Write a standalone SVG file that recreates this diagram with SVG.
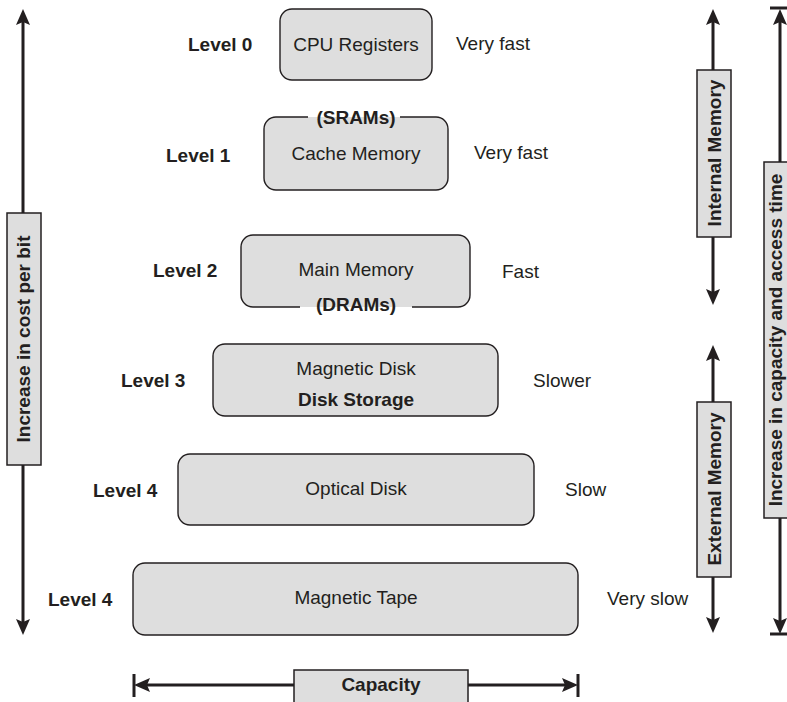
<svg xmlns="http://www.w3.org/2000/svg" width="787" height="702" viewBox="0 0 787 702">
  <style>
    text { font-family: "Liberation Sans", Arial, sans-serif; font-size: 19px; fill: #231f20; }
    .b { font-weight: bold; }
    .m { text-anchor: middle; }
    .box { fill: #dedede; stroke: #231f20; stroke-width: 1.4; }
    .fill { fill: #dedede; stroke: none; }
    .edge { fill: none; stroke: #231f20; stroke-width: 1.4; }
    .tag { fill: #dedede; stroke: #231f20; stroke-width: 1.5; }
    .axis { fill: none; stroke: #231f20; stroke-width: 3; }
  </style>
  <defs>
    <marker id="head" viewBox="-16 -7 16 14" refX="-10" refY="0" markerWidth="16" markerHeight="14" markerUnits="userSpaceOnUse" orient="auto-start-reverse">
      <path d="M0,0 L-16,-7 L-13,0 L-16,7 z" fill="#231f20"/>
    </marker>
  </defs>

  <!-- axes and range arrows -->
  <g id="connectors">
    <line class="axis" x1="23" y1="19" x2="23" y2="625" marker-start="url(#head)" marker-end="url(#head)"/>
    <line class="axis" x1="713" y1="19" x2="713" y2="295" marker-start="url(#head)" marker-end="url(#head)"/>
    <line class="axis" x1="713" y1="355" x2="713" y2="623" marker-start="url(#head)" marker-end="url(#head)"/>
    <line class="axis" x1="780" y1="19" x2="780" y2="624" marker-start="url(#head)" marker-end="url(#head)"/>
    <line class="axis" x1="770" y1="8" x2="792" y2="8"/>
    <line class="axis" x1="770" y1="634" x2="792" y2="634"/>
    <line class="axis" x1="144" y1="685" x2="568" y2="685" marker-start="url(#head)" marker-end="url(#head)"/>
    <line class="axis" x1="134" y1="674" x2="134" y2="697"/>
    <line class="axis" x1="578" y1="674" x2="578" y2="697"/>
  </g>

  <!-- axis captions -->
  <g id="cost-label">
    <rect class="tag" x="7" y="213" width="34" height="252"/>
    <text class="b m" x="30" y="339" transform="rotate(-90 30 339)">Increase in cost per bit</text>
  </g>
  <g id="internal-label">
    <rect class="tag" x="697" y="70" width="34" height="167"/>
    <text class="b m" x="721" y="153" transform="rotate(-90 721 153)">Internal Memory</text>
  </g>
  <g id="external-label">
    <rect class="tag" x="697" y="402" width="34" height="175"/>
    <text class="b m" x="721" y="489" transform="rotate(-90 721 489)">External Memory</text>
  </g>
  <g id="access-label">
    <rect class="tag" x="764" y="162" width="36" height="356"/>
    <text class="b m" x="782" y="340" transform="rotate(-90 782 340)">Increase in capacity and access time</text>
  </g>
  <g id="capacity-label">
    <rect class="tag" x="294" y="670" width="174" height="40"/>
    <text class="b m" x="381" y="691">Capacity</text>
  </g>

  <!-- hierarchy levels -->
  <g id="level0">
    <rect class="box" x="280" y="9" width="152" height="71" rx="12"/>
    <text class="m" x="356" y="51">CPU Registers</text>
    <text class="b" x="188" y="51">Level 0</text>
    <text x="456" y="50">Very fast</text>
  </g>
  <g id="level1">
    <rect class="fill" x="264" y="117" width="184" height="73" rx="12"/>
    <path class="edge" d="M400,117 H436 A12,12 0 0 1 448,129 V178 A12,12 0 0 1 436,190 H276 A12,12 0 0 1 264,178 V129 A12,12 0 0 1 276,117 H308"/>
    <text class="b m" x="356" y="124">(SRAMs)</text>
    <text class="m" x="356" y="160">Cache Memory</text>
    <text class="b" x="166" y="162">Level 1</text>
    <text x="474" y="159">Very fast</text>
  </g>
  <g id="level2">
    <rect class="fill" x="241" y="235" width="229" height="72" rx="12"/>
    <path class="edge" d="M300,307 H253 A12,12 0 0 1 241,295 V247 A12,12 0 0 1 253,235 H458 A12,12 0 0 1 470,247 V295 A12,12 0 0 1 458,307 H412"/>
    <text class="m" x="356" y="276">Main Memory</text>
    <text class="b m" x="356" y="311">(DRAMs)</text>
    <text class="b" x="153" y="277">Level 2</text>
    <text x="502" y="278">Fast</text>
  </g>
  <g id="level3">
    <rect class="box" x="213" y="344" width="285" height="72" rx="12"/>
    <text class="m" x="356" y="375">Magnetic Disk</text>
    <text class="b m" x="356" y="406">Disk Storage</text>
    <text class="b" x="121" y="387">Level 3</text>
    <text x="533" y="387">Slower</text>
  </g>
  <g id="level4-optical">
    <rect class="box" x="178" y="454" width="356" height="71" rx="12"/>
    <text class="m" x="356" y="495">Optical Disk</text>
    <text class="b" x="93" y="497">Level 4</text>
    <text x="565" y="496">Slow</text>
  </g>
  <g id="level4-tape">
    <rect class="box" x="133" y="563" width="445" height="72" rx="12"/>
    <text class="m" x="356" y="604">Magnetic Tape</text>
    <text class="b" x="48" y="606">Level 4</text>
    <text x="607" y="605">Very slow</text>
  </g>
</svg>
